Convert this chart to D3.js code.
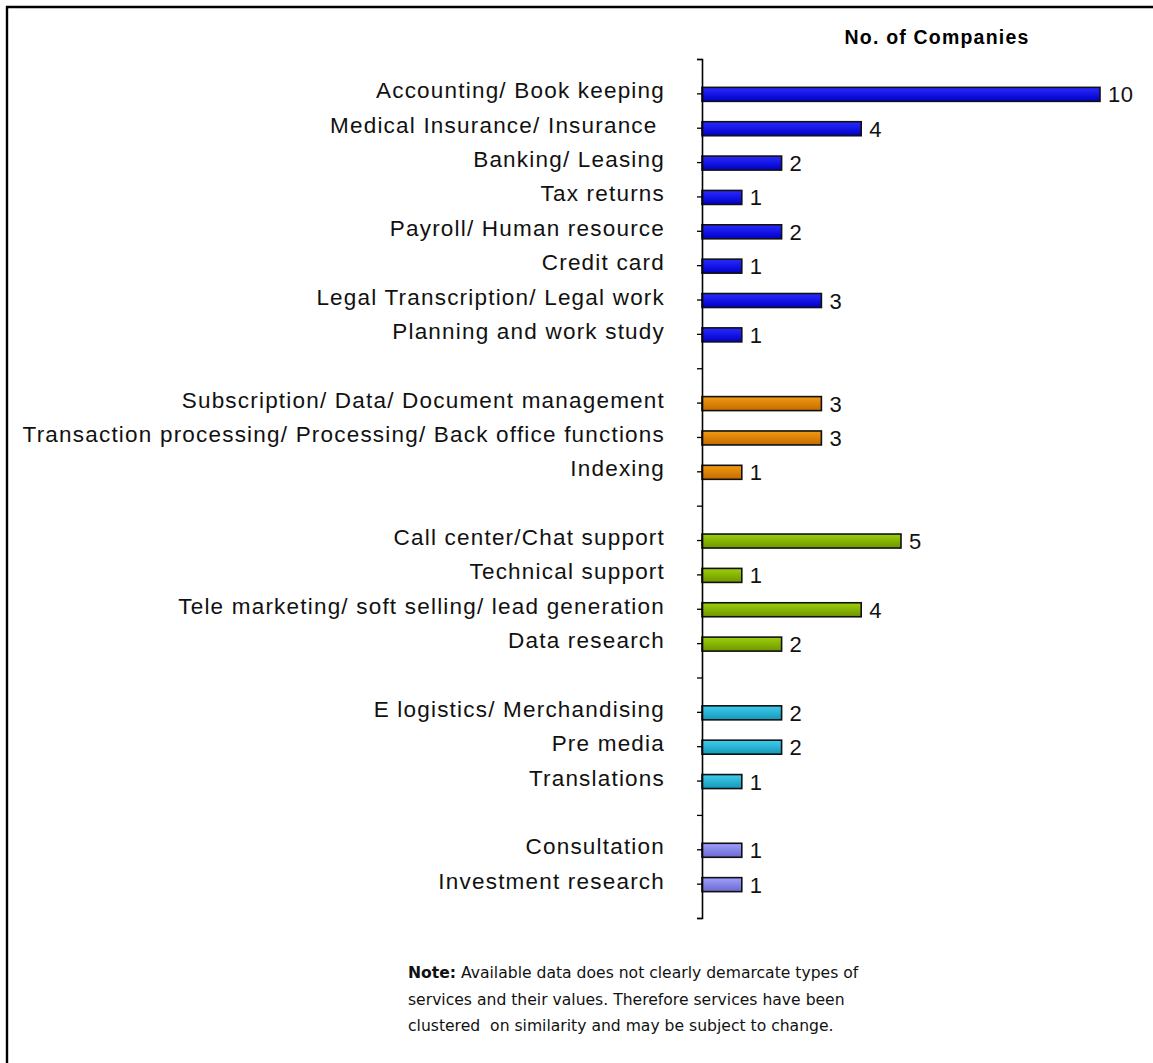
<!DOCTYPE html>
<html>
<head>
<meta charset="utf-8">
<script src="https://cdn.jsdelivr.net/npm/d3@7/dist/d3.min.js"></script>
<style>
  html, body { margin: 0; padding: 0; background: #fff; }
  svg { display: block; }
</style>
</head>
<body>
<svg id="chart" width="1153" height="1063"></svg>
<script>
// Service categories, top to bottom, with the cluster each belongs to
const categories = [
  "Accounting/ Book keeping",
  "Medical Insurance/ Insurance ",
  "Banking/ Leasing",
  "Tax returns",
  "Payroll/ Human resource",
  "Credit card",
  "Legal Transcription/ Legal work",
  "Planning and work study",
  "Subscription/ Data/ Document management",
  "Transaction processing/ Processing/ Back office functions",
  "Indexing",
  "Call center/Chat support",
  "Technical support",
  "Tele marketing/ soft selling/ lead generation",
  "Data research",
  "E logistics/ Merchandising",
  "Pre media",
  "Translations",
  "Consultation",
  "Investment research"
];
const companies = [10, 4, 2, 1, 2, 1, 3, 1, 3, 3, 1, 5, 1, 4, 2, 2, 2, 1, 1, 1];
const clusters = [0, 0, 0, 0, 0, 0, 0, 0, 1, 1, 1, 2, 2, 2, 2, 3, 3, 3, 4, 4];
const clusterColors = [
  ["#2a2aff", "#0000c8"],
  ["#f39a12", "#c46a00"],
  ["#9cd00a", "#6f9600"],
  ["#3fcdee", "#1697b8"],
  ["#a0a0ff", "#6a6ad0"]
];
const axisTitle = "No. of Companies";
const noteLines = [
  ["Note:", " Available data does not clearly demarcate types of"],
  ["", "services and their values. Therefore services have been"],
  ["", "clustered  on similarity and may be subject to change."]
];

const svg = d3.select("#chart");

// frame: top and left rules only
svg.append("line").attr("x1", 6).attr("x2", 1153).attr("y1", 7).attr("y2", 7)
  .attr("stroke", "#000").attr("stroke-width", 2.4);
svg.append("line").attr("x1", 7).attr("x2", 7).attr("y1", 6).attr("y2", 1063)
  .attr("stroke", "#000").attr("stroke-width", 2.4);

// Build the slot list: blank slot at the top, one after each cluster
const slots = ["blank-top"];
const rows = categories.map((c, i) => ({ key: "row" + i, label: c, value: companies[i], cluster: clusters[i] }));
rows.forEach((r, i) => {
  slots.push(r.key);
  if (i === rows.length - 1 || clusters[i + 1] !== clusters[i]) slots.push("blank-" + i);
});

const axisX = 702;
const y = d3.scalePoint().domain(slots).range([59, 918]);
const x = d3.scaleLinear().domain([0, 10]).range([axisX, axisX + 398]);

// gradients per cluster
const defs = svg.append("defs");
clusterColors.forEach((c, i) => {
  const g = defs.append("linearGradient").attr("id", "grad" + i)
    .attr("x1", 0).attr("x2", 0).attr("y1", 0).attr("y2", 1);
  g.append("stop").attr("offset", "0%").attr("stop-color", c[0]);
  g.append("stop").attr("offset", "100%").attr("stop-color", c[1]);
});

const barH = 14;

svg.append("g").selectAll("rect").data(rows).join("rect")
  .attr("x", x(0))
  .attr("y", d => y(d.key) - barH / 2 + 1)
  .attr("width", d => x(d.value) - x(0))
  .attr("height", barH)
  .attr("fill", d => `url(#grad${d.cluster})`)
  .attr("stroke", "#111")
  .attr("stroke-width", 1.6);

// category axis
const axis = d3.axisLeft(y).tickSize(5).tickFormat("").tickSizeOuter(5);
const gAxis = svg.append("g").attr("transform", `translate(${axisX},0)`).call(axis);
gAxis.select(".domain").attr("stroke", "#000").attr("stroke-width", 1.6);
gAxis.selectAll(".tick line").attr("stroke", "#000").attr("stroke-width", 1.3);

// category labels
svg.append("g").selectAll("text").data(rows).join("text")
  .attr("x", 665)
  .attr("y", d => y(d.key) + 5)
  .attr("text-anchor", "end")
  .attr("font-family", "Liberation Sans, Arial, sans-serif")
  .attr("font-size", 22.5)
  .attr("letter-spacing", 1.2)
  .attr("fill", "#111")
  .style("white-space", "pre")
  .text(d => d.label);

// value labels
svg.append("g").selectAll("text").data(rows).join("text")
  .attr("x", d => x(d.value) + 8)
  .attr("y", d => y(d.key) + 9)
  .attr("font-family", "Liberation Sans, Arial, sans-serif")
  .attr("font-size", 22)
  .attr("letter-spacing", 0.5)
  .attr("fill", "#111")
  .text(d => d.value);

// axis title
svg.append("text")
  .attr("x", 937).attr("y", 44)
  .attr("text-anchor", "middle")
  .attr("font-family", "Liberation Sans, Arial, sans-serif")
  .attr("font-weight", "bold")
  .attr("font-size", 19.5)
  .attr("letter-spacing", 1.2)
  .attr("fill", "#000")
  .text(axisTitle);

// footnote
const note = svg.append("g");
noteLines.forEach((ln, i) => {
  const t = note.append("text")
    .attr("x", 408).attr("y", 978 + i * 26.5)
    .attr("font-family", "DejaVu Sans, Verdana, sans-serif")
    .attr("font-size", 15.6)
    .attr("fill", "#111")
    .style("white-space", "pre");
  if (ln[0]) t.append("tspan").attr("font-weight", "bold").text(ln[0]);
  t.append("tspan").text(ln[1]);
});
</script>
</body>
</html>
